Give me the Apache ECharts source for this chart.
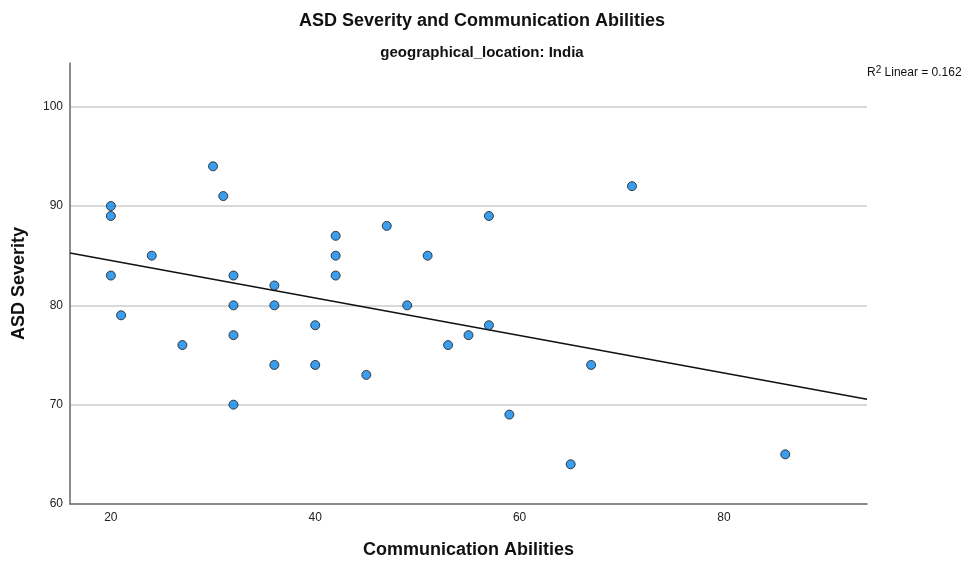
<!DOCTYPE html>
<html>
<head>
<meta charset="utf-8">
<script src="https://cdn.jsdelivr.net/npm/echarts@6/dist/echarts.min.js"></script>
<style>
  html, body { margin: 0; padding: 0; background: #fff; }
  #chart { width: 971px; height: 572px; }
</style>
</head>
<body>
<div id="chart"></div>
<script>
// Communication Abilities (x) and ASD Severity (y) per participant, India
const communication = [20, 20, 20, 21, 24, 27, 30, 31, 32, 32, 32, 32, 36, 36, 36, 40, 40,
  42, 42, 42, 45, 47, 49, 51, 53, 55, 57, 57, 59, 65, 67, 71, 86];
const severity = [90, 89, 83, 79, 85, 76, 94, 91, 83, 80, 77, 70, 82, 80, 74, 78, 74,
  87, 85, 83, 73, 88, 80, 85, 76, 77, 89, 78, 69, 64, 74, 92, 65];
const xTicks = [20, 40, 60, 80];
const yTicks = [60, 70, 80, 90, 100];
const r2Label = '0.162';

const xMin = 16, xMax = 94;
const yMin = 60, yMax = 104.4;

// Ordinary least-squares fit of severity on communication
const n = communication.length;
const mx = communication.reduce((a, b) => a + b, 0) / n;
const my = severity.reduce((a, b) => a + b, 0) / n;
let sxy = 0, sxx = 0;
for (let i = 0; i < n; i++) {
  sxy += (communication[i] - mx) * (severity[i] - my);
  sxx += (communication[i] - mx) ** 2;
}
const slope = sxy / sxx;
const intercept = my - slope * mx;
const fitLine = [[xMin, intercept + slope * xMin], [xMax, intercept + slope * xMax]];

const points = communication.map((x, i) => [x, severity[i]]);
const labelFont = '"Liberation Sans", Arial, sans-serif';
const boldFont = '"Liberation Sans", Arial, sans-serif';

const chart = echarts.init(document.getElementById('chart'), null, { renderer: 'canvas' });
chart.setOption({
  animation: false,
  backgroundColor: '#ffffff',
  title: [
    {
      text: 'ASD Severity and Communication Abilities',
      left: 477, top: 7, textAlign: 'center',
      textStyle: { fontFamily: boldFont, fontSize: 18, fontWeight: 'bold', color: '#111' }
    },
    {
      text: 'geographical_location: India',
      left: 477, top: 40, textAlign: 'center',
      textStyle: { fontFamily: boldFont, fontSize: 15, fontWeight: 'bold', color: '#111' }
    }
  ],
  grid: { left: 70, right: 104, top: 63, bottom: 68, containLabel: false },
  xAxis: {
    type: 'value', min: xMin, max: xMax,
    name: 'Communication Abilities', nameLocation: 'middle', nameGap: 37,
    nameTextStyle: { fontFamily: boldFont, fontSize: 18, fontWeight: 'bold', color: '#111' },
    axisLine: { show: true, onZero: false, lineStyle: { color: '#666', width: 1.5 } },
    axisTick: { show: false, customValues: xTicks },
    axisLabel: { customValues: xTicks, fontFamily: labelFont, fontSize: 12, color: '#222', margin: 8 },
    splitLine: { show: false }
  },
  yAxis: {
    type: 'value', min: yMin, max: yMax,
    name: 'ASD Severity', nameLocation: 'middle', nameGap: 42,
    nameTextStyle: { fontFamily: boldFont, fontSize: 18, fontWeight: 'bold', color: '#111' },
    axisLine: { show: true, onZero: false, lineStyle: { color: '#666', width: 1.5 } },
    axisTick: { show: false, customValues: yTicks },
    axisLabel: { customValues: yTicks, fontFamily: labelFont, fontSize: 12, color: '#222', margin: 7 },
    splitLine: { show: true, showMinLine: false, showMaxLine: true, lineStyle: { color: '#cccccc', width: 1.5 } }
  },
  graphic: [{
    type: 'text', left: 867, top: 65,
    style: {
      text: 'R{sup|2} Linear = ' + r2Label,
      fontFamily: boldFont, fontSize: 12, fill: '#111',
      rich: { sup: { fontSize: 10, verticalAlign: 'top', padding: [0, 0, 5, 0], fill: '#111', fontFamily: boldFont } }
    }
  }],
  series: [
    {
      type: 'line', data: fitLine, symbol: 'none', silent: true, z: 2,
      lineStyle: { color: '#111', width: 1.5 }
    },
    {
      type: 'scatter', data: points, symbol: 'circle', symbolSize: 9, z: 3,
      itemStyle: { color: '#0a84e8', borderColor: '#1a1a1a', borderWidth: 1 }
    }
  ]
});
</script>
</body>
</html>
